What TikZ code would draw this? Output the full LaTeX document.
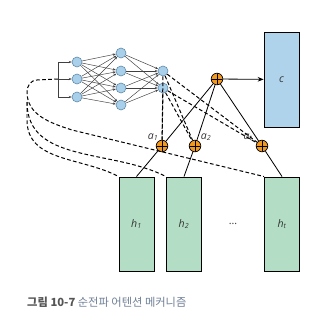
\documentclass[tikz,border=0pt]{standalone}
\usepackage{fontspec}
\newfontfamily\labelfont{Open Sans}
\newfontfamily\krfont{Noto Sans CJK KR}
\usetikzlibrary{positioning}
\usetikzlibrary{arrows.meta}
\usetikzlibrary{shadows}
\definecolor{netblue}{HTML}{A9D0EA}
\definecolor{netrim}{HTML}{5F87A8}
\definecolor{cblue}{HTML}{AFD3EA}
\definecolor{hgreen}{HTML}{B3DEC5}
\definecolor{sumorange}{HTML}{F39A1E}
\definecolor{capgray}{HTML}{555555}
\definecolor{capblue}{HTML}{6E7F96}

\begin{document}
\begin{tikzpicture}[x=0.03cm,y=-0.03cm,
  netnode/.style={circle,draw=netrim,fill=netblue,line width=0.5pt,minimum size=0.3cm,inner sep=0pt},
  netedge/.style={draw=black!75,line width=0.4pt,-{Stealth[length=2.5pt,width=2pt]}},
  sumnode/.style={circle,draw,fill=sumorange,line width=0.6pt,minimum size=0.35cm,inner sep=0pt,
    path picture={\draw[line width=0.6pt] (path picture bounding box.north) -- (path picture bounding box.south)
      (path picture bounding box.west) -- (path picture bounding box.east);}},
  vecbox/.style={rectangle,draw,line width=0.8pt,minimum width=1.05cm,drop shadow={shadow xshift=0.6pt,shadow yshift=-0.6pt,opacity=0.35}},
  dashline/.style={line width=0.85pt,dash pattern=on 3.2pt off 2pt},
  solidline/.style={line width=0.7pt},
  lbl/.style={font=\labelfont\fontsize{9}{10}\selectfont\itshape,text=black!80}]
\useasboundingbox (0,0) rectangle (318,313);

% network
\coordinate (in1) at (58,62);
\coordinate (in2) at (58,79);
\coordinate (in3) at (58,97);
\node[netnode] (n11) at (77,62) {};
\node[netnode] (n12) at (77,79) {};
\node[netnode] (n13) at (77,97) {};
\node[netnode] (n21) at (121,53) {};
\node[netnode] (n22) at (121,71) {};
\node[netnode] (n23) at (121,88) {};
\node[netnode] (n24) at (121,105) {};
\node[netnode] (n31) at (163,71) {};
\node[netnode] (n32) at (163,88) {};
\draw[draw=black!75,line width=0.4pt] (in1) -- (in3);
\draw[netedge] (in1) -- (n11);
\draw[netedge] (in2) -- (n12);
\draw[netedge] (in3) -- (n13);
\draw[netedge] (n11) -- (n21);
\draw[netedge] (n11) -- (n22);
\draw[netedge] (n11) -- (n23);
\draw[netedge] (n11) -- (n24);
\draw[netedge] (n12) -- (n21);
\draw[netedge] (n12) -- (n22);
\draw[netedge] (n12) -- (n23);
\draw[netedge] (n12) -- (n24);
\draw[netedge] (n13) -- (n21);
\draw[netedge] (n13) -- (n22);
\draw[netedge] (n13) -- (n23);
\draw[netedge] (n13) -- (n24);
\draw[netedge] (n21) -- (n31);
\draw[netedge] (n21) -- (n32);
\draw[netedge] (n22) -- (n31);
\draw[netedge] (n22) -- (n32);
\draw[netedge] (n23) -- (n31);
\draw[netedge] (n23) -- (n32);
\draw[netedge] (n24) -- (n31);
\draw[netedge] (n24) -- (n32);

% boxes
\node[vecbox,fill=cblue,minimum height=2.85cm] (c) at (281.5,79.5) {};
\node[lbl] at (c) {c};
\node[vecbox,fill=hgreen,minimum height=2.82cm] (h1) at (136.5,224) {};
\node[lbl] at (h1) {h\textsubscript{1}};
\node[vecbox,fill=hgreen,minimum height=2.82cm] (h2) at (184,224) {};
\node[lbl] at (h2) {h\textsubscript{2}};
\node[vecbox,fill=hgreen,minimum height=2.82cm] (ht) at (282,224) {};
\node[lbl] at (ht) {h\textsubscript{t}};
\node[lbl] (dots) at (233,224) {\upshape...};

% scores and sum
\node[sumnode] (sum) at (217,79) {};
\node[sumnode] (a1) at (162,146) {};
\node[sumnode] (a2) at (195,146) {};
\node[sumnode] (at) at (262,146) {};
\node[lbl] (la1) at (153,137) {a\textsubscript{1}};
\node[lbl] (la2) at (206,137) {a\textsubscript{2}};
\node[lbl] (lat) at (248,137) {a\textsubscript{t}};

\draw[dashline] (n31) -- (a1);
\draw[dashline] (n31) -- (a2);
\draw[dashline] (n31) -- (at);
\draw[dashline] (n32) -- (a1);
\draw[dashline] (n32) -- (a2);
\draw[dashline] (n32) -- (at);

\draw[dashline] (in2) -- (37,80) to[out=180,in=90] (27,92) to[out=-90,in=162] (72,130) -- (ht.north west);
\draw[dashline] (27,102) to[out=-90,in=153] (h2.north west);
\draw[dashline] (27,102) -- (27,120) to[out=-90,in=152] (h1.north west);

\draw[solidline] (h1.north) -- (a1);
\draw[solidline] (h2.north) -- (a2);
\draw[solidline] (ht.north) -- (at);
\draw[solidline] (a1) -- (sum);
\draw[solidline] (a2) -- (sum);
\draw[solidline] (at) -- (sum);
\draw[solidline,-{Stealth[length=5pt,width=4pt]}] (sum) -- (c);

% caption
\node[anchor=west,font=\krfont\fontsize{9.6}{11}\selectfont,inner sep=0pt] (cap) at (27,302)
  {\textcolor{capgray}{\bfseries 그림 10-7} \textcolor{capblue}{순전파 어텐션 메커니즘}};

\end{tikzpicture}
\end{document}
